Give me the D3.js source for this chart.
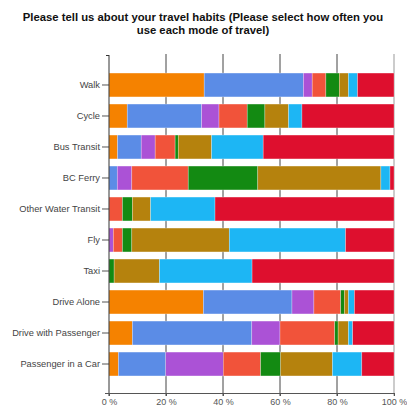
<!DOCTYPE html>
<html>
<head>
<meta charset="utf-8">
<script src="https://cdn.jsdelivr.net/npm/d3@7/dist/d3.min.js"></script>
<style>
  html, body { margin: 0; padding: 0; background: #fff; }
  svg { display: block; }
</style>
</head>
<body>
<script>
// Travel modes, top to bottom
const modes = ["Walk", "Cycle", "Bus Transit", "BC Ferry", "Other Water Transit", "Fly",
  "Taxi", "Drive Alone", "Drive with Passenger", "Passenger in a Car"];

// Frequency answers, stacked left to right
const frequencies = ["Daily", "Several times a week", "Once a week", "Several times a month",
  "Once a month", "Several times a year", "Once a year or less", "Never"];

// Percent of respondents per frequency, one value per mode
const daily        = [33.4,  6.4,  3.0,  0.0,  0.0,  0.0,  0.0, 33.1,  8.2,  3.3];
const severalWeek  = [34.8, 26.1,  8.3,  2.9,  0.0,  0.0,  0.0, 31.1, 41.9, 16.6];
const onceWeek     = [ 3.1,  6.1,  4.9,  5.1,  0.0,  1.5,  0.0,  7.7,  9.9, 20.2];
const severalMonth = [ 4.8,  9.9,  7.0, 19.8,  4.7,  3.2,  0.0,  9.4, 19.2, 13.1];
const onceMonth    = [ 4.7,  6.2,  1.1, 24.4,  3.5,  3.3,  1.8,  1.3,  1.2,  7.0];
const severalYear  = [ 3.2,  8.3, 11.7, 43.2,  6.4, 34.2, 15.9,  1.4,  3.6, 18.2];
const onceYear     = [ 3.2,  4.7, 18.1,  3.2, 22.6, 40.8, 32.5,  2.1,  1.5, 10.3];
const never        = [12.8, 32.3, 45.9,  1.4, 62.8, 17.0, 49.8, 13.9, 14.5, 11.3];

const xTicks = [0, 20, 40, 60, 80, 100];
const xTickLabels = ["0 %", "20 %", "40 %", "60 %", "80 %", "100 %"];

const colors = ["#f58200", "#5b8ce6", "#ab52d6", "#f1533a", "#138a12", "#b5820d", "#1db6f4", "#de0f2e"];

const seriesValues = [daily, severalWeek, onceWeek, severalMonth, onceMonth, severalYear, onceYear, never];
const table = modes.map((m, i) => {
  const row = { mode: m };
  frequencies.forEach((f, j) => { row[f] = seriesValues[j][i]; });
  return row;
});

const W = 407, H = 409;
const svg = d3.select("body").append("svg").attr("width", W).attr("height", H);

const x = d3.scaleLinear().domain([0, 100]).range([109, 394]);
const y = d3.scaleBand().domain(modes).range([56, 393]).paddingInner(0.23).paddingOuter(0.55);

// Title
svg.append("text")
  .attr("x", 203).attr("y", 21)
  .attr("text-anchor", "middle")
  .style("font-family", "Liberation Sans, Arial, sans-serif")
  .style("font-weight", "bold").style("font-size", "11.3px").attr("fill", "#111")
  .selectAll("tspan")
  .data(["Please tell us about your travel habits (Please select how often you", "use each mode of travel)"])
  .join("tspan").attr("x", 203).attr("dy", (d, i) => i ? 13 : 0).text(d => d);

// Vertical grid lines
svg.append("g").selectAll("line")
  .data(xTicks.slice(1))
  .join("line")
  .attr("x1", d => x(d)).attr("x2", d => x(d))
  .attr("y1", 54).attr("y2", 396)
  .attr("stroke", d => d === 100 ? "#999" : "#444").attr("stroke-width", 1);

// Stacked bars
const stack = d3.stack().keys(frequencies);
const layers = stack(table);
svg.append("g").selectAll("g")
  .data(layers)
  .join("g")
  .attr("fill", (d, i) => colors[i])
  .selectAll("rect")
  .data(d => d)
  .join("rect")
  .attr("x", d => x(d[0]))
  .attr("width", d => Math.max(0, x(d[1]) - x(d[0])))
  .attr("y", d => y(d.data.mode))
  .attr("height", y.bandwidth())
  .attr("stroke", "#fff").attr("stroke-opacity", 0.45).attr("stroke-width", 0.6);

// Left axis
const yAxis = svg.append("g").attr("transform", "translate(109,0)")
  .call(d3.axisLeft(y).tickSize(7).tickPadding(2).tickSizeOuter(0));
yAxis.select(".domain").remove();
yAxis.selectAll(".tick line").attr("stroke", "#555");
yAxis.selectAll("text")
  .style("font-family", "Liberation Sans, Arial, sans-serif")
  .style("font-size", "9.3px").attr("fill", "#444");
svg.append("line").attr("x1", 109).attr("x2", 109).attr("y1", 55).attr("y2", 396)
  .attr("stroke", "#333");
svg.append("line").attr("x1", 106).attr("x2", 109).attr("y1", 55.5).attr("y2", 55.5)
  .attr("stroke", "#333");

// Bottom axis
const xAxis = svg.append("g").attr("transform", "translate(0,393)")
  .call(d3.axisBottom(x).tickValues(xTicks).tickFormat((d, i) => xTickLabels[i]).tickSize(3).tickSizeOuter(0));
xAxis.select(".domain").attr("stroke", "#555").attr("d", "M105,0.5H394");
xAxis.selectAll(".tick line").attr("stroke", "#555");
xAxis.selectAll("text")
  .style("font-family", "Liberation Sans, Arial, sans-serif")
  .style("font-size", "9px").attr("fill", "#555");
</script>
</body>
</html>
